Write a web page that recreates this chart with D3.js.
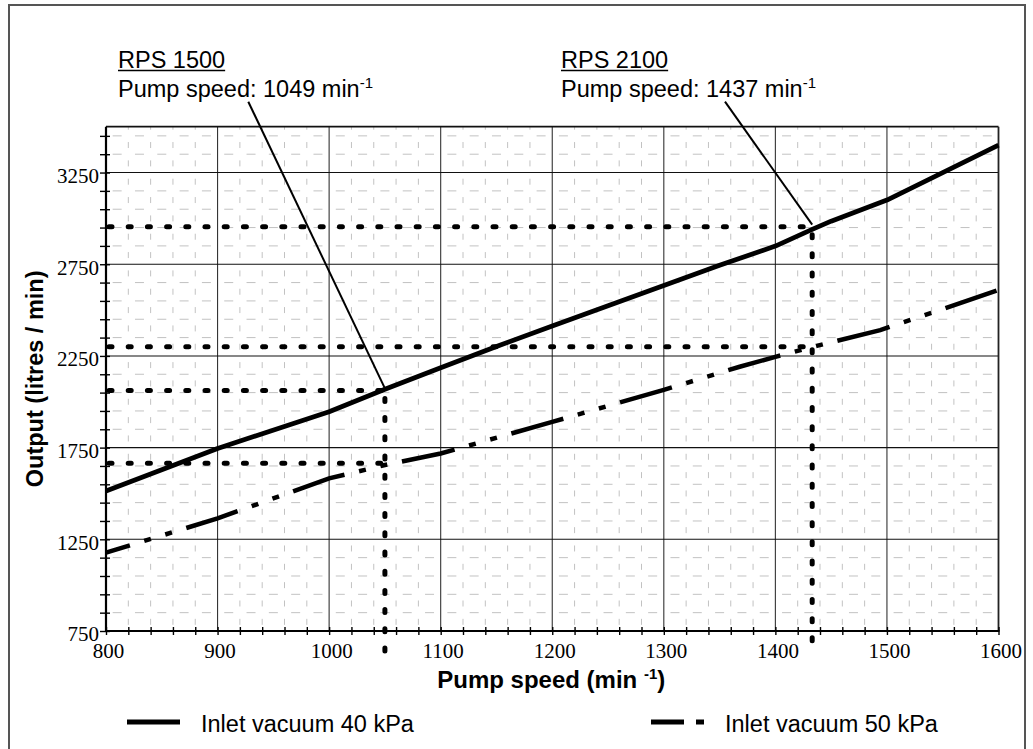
<!DOCTYPE html>
<html><head><meta charset="utf-8">
<script src="https://cdn.jsdelivr.net/npm/d3@7"></script>
<style>
html,body{margin:0;padding:0;background:#fff;}
svg{display:block;}
</style></head>
<body><svg id="chart" width="1033" height="749"></svg>
<script>
// ---------- data ----------
const speed40 = [800, 900, 1000, 1050, 1100, 1150, 1200, 1250, 1300, 1350, 1400, 1433, 1450, 1500, 1550, 1600];
const output40 = [1513, 1745, 1946, 2068, 2185, 2302, 2413, 2523, 2634, 2744, 2849, 2940, 2985, 3100, 3250, 3400];
const speed50 = [800, 900, 1000, 1050, 1100, 1200, 1300, 1368, 1400, 1437, 1494, 1550, 1600];
const output50 = [1177, 1364, 1582, 1655, 1718, 1890, 2065, 2191, 2245, 2305, 2391, 2505, 2610];
const rpsTitles = ["RPS 1500", "RPS 2100"];
const rpsTexts = ["Pump speed: 1049 min", "Pump speed: 1437 min"];
const rpsSpeed = [1050, 1433];          // vertical dotted lines
const rpsOut40 = [2062, 2955];          // horizontal dotted (40 kPa)
const rpsOut50 = [1665, 2300];          // horizontal dotted (50 kPa)
const xTickLabels = [800, 900, 1000, 1100, 1200, 1300, 1400, 1500, 1600];
const yTickLabels = [750, 1250, 1750, 2250, 2750, 3250];
const legendLabels = ["Inlet vacuum 40 kPa", "Inlet vacuum 50 kPa"];
const xTitle = "Pump speed (min ";
const yTitle = "Output (litres / min)";

// ---------- layout ----------
const svg = d3.select('#chart');
const M = {l: 106, r: 998.5, t: 126.7, b: 631};
const x = d3.scaleLinear().domain([800, 1600]).range([M.l, M.r]);
const y = d3.scaleLinear().domain([750, 3500]).range([M.b, M.t]);
const SANS = '"Liberation Sans", Arial, sans-serif';
const SERIF = '"Liberation Serif", "Times New Roman", serif';

// outer frame
svg.append('rect').attr('x', 9).attr('y', 5).attr('width', 1016).attr('height', 800)
  .attr('fill', 'none').attr('stroke', '#555').attr('stroke-width', 2);

// minor grid
const xMinor = d3.range(820, 1600, 20).filter(v => v % 100 !== 0);
const yMinor = d3.range(850, 3500, 100).filter(v => (v - 750) % 500 !== 0);
const px20 = x(820) - x(800), px100 = y(750) - y(850);
const gGrid = svg.append('g');
gGrid.selectAll('.hm').data(yMinor).join('line')
  .attr('x1', M.l).attr('x2', M.r).attr('y1', d => y(d)).attr('y2', d => y(d))
  .attr('stroke', '#c2c2c2').attr('stroke-width', 1)
  .attr('stroke-dasharray', `9,${px20 - 9}`).attr('stroke-dashoffset', -(px20 / 2 - 4.5));
gGrid.selectAll('.vm').data(xMinor).join('line')
  .attr('x1', d => x(d)).attr('x2', d => x(d)).attr('y1', M.t).attr('y2', M.b)
  .attr('stroke', '#c2c2c2').attr('stroke-width', 1)
  .attr('stroke-dasharray', `6,${px100 - 6}`).attr('stroke-dashoffset', 3);
// major grid
gGrid.selectAll('.vM').data(xTickLabels.slice(1, -1)).join('line')
  .attr('x1', d => x(d)).attr('x2', d => x(d)).attr('y1', M.t).attr('y2', M.b)
  .attr('stroke', '#333').attr('stroke-width', 1.1);
gGrid.selectAll('.hM').data(yTickLabels.slice(1)).join('line')
  .attr('x1', M.l).attr('x2', M.r).attr('y1', d => y(d)).attr('y2', d => y(d))
  .attr('stroke', '#111').attr('stroke-width', 1.1);

// plot border top / right
svg.append('line').attr('x1', M.l).attr('x2', M.r).attr('y1', M.t).attr('y2', M.t).attr('stroke', '#111').attr('stroke-width', 1.8);
svg.append('line').attr('x1', M.r).attr('x2', M.r).attr('y1', M.t).attr('y2', M.b).attr('stroke', '#222').attr('stroke-width', 1.8);

// curves
const line = d3.line().x(d => x(d[0])).y(d => y(d[1]));
svg.append('path').datum(speed40.map((s, i) => [s, output40[i]])).attr('d', line)
  .attr('fill', 'none').attr('stroke', '#000').attr('stroke-width', 4.8).attr('stroke-linejoin', 'round');
svg.append('path').datum(speed50.map((s, i) => [s, output50[i]])).attr('d', line)
  .attr('fill', 'none').attr('stroke', '#000').attr('stroke-width', 4.5)
  .attr('stroke-dasharray', '54,15,7,15,7,15').attr('stroke-dashoffset', 29);

// axes (ticks)
const gx = svg.append('g').attr('transform', `translate(0,${M.b})`)
  .call(d3.axisBottom(x).tickValues(d3.range(800, 1601, 20)).tickSize(4).tickFormat(''));
gx.select('.domain').remove();
gx.selectAll('.tick line').attr('y1', -4).attr('y2', 4).attr('stroke', '#000').attr('stroke-width', 1.4);
const gxl = svg.append('g').attr('transform', `translate(0,${M.b})`)
  .call(d3.axisBottom(x).tickValues(xTickLabels).tickSize(0).tickPadding(12).tickFormat(d => d));
gxl.select('.domain').remove();
gxl.selectAll('text').attr('font-family', SERIF).attr('font-size', 21).attr('fill', '#000').attr('dx', 2);

const gy = svg.append('g').attr('transform', `translate(${M.l},0)`)
  .call(d3.axisLeft(y).tickValues(d3.range(750, 3500, 100)).tickSize(5).tickFormat(''));
gy.select('.domain').remove();
gy.selectAll('.tick line').attr('x1', -6).attr('x2', 4).attr('stroke', '#000').attr('stroke-width', 1.4);
const gyl = svg.append('g').attr('transform', `translate(${M.l},0)`)
  .call(d3.axisLeft(y).tickValues(yTickLabels).tickSize(0).tickPadding(7).tickFormat(d => d));
gyl.select('.domain').remove();
gyl.selectAll('text').attr('font-family', SERIF).attr('font-size', 21).attr('fill', '#000').attr('dy', '0.47em');

// axis lines
svg.append('line').attr('x1', M.l).attr('x2', M.r + 1).attr('y1', M.b).attr('y2', M.b).attr('stroke', '#000').attr('stroke-width', 2.2);
svg.append('line').attr('x1', M.l).attr('x2', M.l).attr('y1', M.t).attr('y2', M.b + 1).attr('stroke', '#000').attr('stroke-width', 2.2);

// dotted reference lines
const dot = sel => sel.attr('stroke', '#000').attr('stroke-width', 5).attr('stroke-linecap', 'round')
  .attr('stroke-dasharray', '3,16.2').attr('fill', 'none');
rpsSpeed.forEach((s, i) => {
  [rpsOut40[i], rpsOut50[i]].forEach(v => {
    svg.append('line').attr('x1', x(800) + 3).attr('x2', x(s)).attr('y1', y(v)).attr('y2', y(v)).call(dot);
  });
  svg.append('line').attr('x1', x(s)).attr('x2', x(s)).attr('y1', y(rpsOut40[i]) + 8).attr('y2', y(750) + 22).call(dot);
});

// annotations
const annX = [118, 561];
const leaderStart = [[248.3, 101.7], [725, 101.7]];
rpsTitles.forEach((t, i) => {
  const tt = svg.append('text').attr('x', annX[i]).attr('y', 68).attr('font-family', SANS).attr('font-size', 23.5).attr('fill', '#000').text(t);
  const w = tt.node().getComputedTextLength();
  svg.append('line').attr('x1', annX[i]).attr('x2', annX[i] + w).attr('y1', 70.5).attr('y2', 70.5).attr('stroke', '#000').attr('stroke-width', 1.5);
  const t2 = svg.append('text').attr('x', annX[i]).attr('y', 97).attr('font-family', SANS).attr('font-size', 23.5).attr('fill', '#000');
  t2.append('tspan').text(rpsTexts[i]);
  t2.append('tspan').attr('font-size', 15).attr('dy', -9).text('-1');
  svg.append('line').attr('x1', leaderStart[i][0]).attr('y1', leaderStart[i][1])
    .attr('x2', x(rpsSpeed[i])).attr('y2', y(rpsOut40[i]) - 2)
    .attr('stroke', '#000').attr('stroke-width', 2);
});

// axis titles
const xt = svg.append('text').attr('x', (M.l + M.r) / 2 - 1).attr('y', 688).attr('text-anchor', 'middle')
  .attr('font-family', SANS).attr('font-weight', 'bold').attr('font-size', 24).attr('fill', '#000');
xt.append('tspan').text(xTitle);
xt.append('tspan').attr('font-size', 15).attr('dy', -9).text('-1');
xt.append('tspan').attr('dy', 9).text(')');
svg.append('text').attr('transform', `translate(43,${(M.t + M.b) / 2}) rotate(-90)`).attr('text-anchor', 'middle')
  .attr('font-family', SANS).attr('font-weight', 'bold').attr('font-size', 23.5).attr('fill', '#000').text(yTitle);

// legend
const legX = [127, 651];
const legTextX = [201, 725];
legendLabels.forEach((l, i) => {
  const p = svg.append('path').attr('d', d3.line()([[legX[i], 722], [legX[i] + 53, 722]]))
    .attr('stroke', '#000').attr('stroke-width', 5).attr('fill', 'none');
  if (i === 1) p.attr('stroke-dasharray', '33,12,8,200');
  svg.append('text').attr('x', legTextX[i]).attr('y', 732).attr('font-family', SANS).attr('font-size', 23.5).attr('fill', '#000').text(l);
});
</script>
</body></html>
